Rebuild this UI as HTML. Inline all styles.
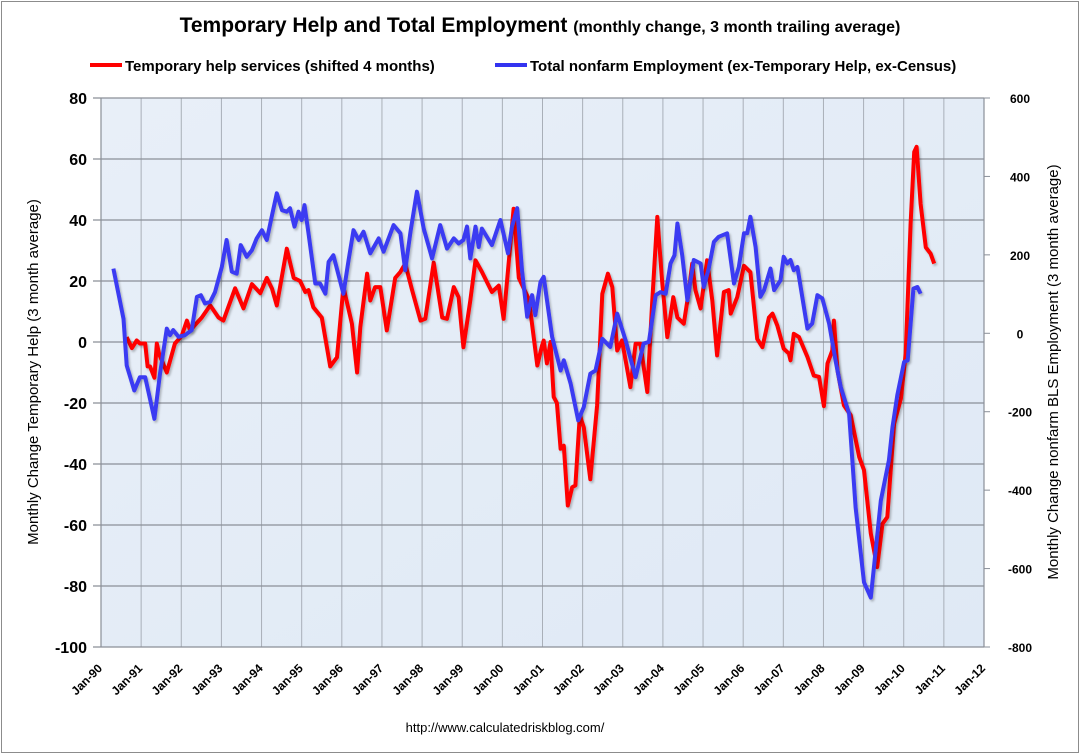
<!DOCTYPE html>
<html><head><meta charset="utf-8"><style>
body{margin:0;background:#fff;}
svg{display:block;font-family:"Liberation Sans",sans-serif;}
</style></head><body>
<svg id="c" width="1080" height="755" viewBox="0 0 1080 755">
<defs>
<linearGradient id="bg" x1="0" y1="0" x2="1" y2="1"><stop offset="0" stop-color="#e8eff8"/><stop offset="1" stop-color="#dfe9f5"/></linearGradient>
<filter id="sh" x="-5%" y="-5%" width="110%" height="110%"><feDropShadow dx="1.5" dy="2" stdDeviation="1" flood-color="#000" flood-opacity="0.25"/></filter>
</defs>
<rect x="1.5" y="1.5" width="1077" height="751" fill="#fff" stroke="#8c8c8c"/>
<text x="540" y="32" text-anchor="middle" font-size="21" font-weight="bold" fill="#000">Temporary Help and Total Employment <tspan font-size="16">(monthly change, 3 month trailing average)</tspan></text>
<g>
<line x1="90" y1="65" x2="122" y2="65" stroke="#f00" stroke-width="4"/>
<text x="125" y="71" font-size="15" font-weight="bold">Temporary help services (shifted 4 months)</text>
<line x1="495" y1="65" x2="527" y2="65" stroke="#3333f0" stroke-width="4"/>
<text x="530" y="71" font-size="15" font-weight="bold">Total nonfarm Employment (ex-Temporary Help, ex-Census)</text>
</g>
<g id="plot"></g>
<text transform="translate(38,372) rotate(-90)" text-anchor="middle" font-size="15">Monthly Change Temporary Help (3 month average)</text>
<text transform="translate(1058,372) rotate(-90)" text-anchor="middle" font-size="15">Monthly Change nonfarm BLS Employment (3 month average)</text>
<text x="505" y="732" text-anchor="middle" font-size="13" font-family="Liberation Sans, sans-serif">http://www.calculatedriskblog.com/</text>
</svg>
<script>
// years since Jan-1990
const redT=[0.64,0.77,0.89,0.97,1.10,1.16,1.22,1.33,1.39,1.45,1.64,1.84,2.01,2.14,2.22,2.51,2.72,2.93,3.05,3.34,3.55,3.76,3.97,4.13,4.26,4.38,4.63,4.80,4.96,5.09,5.17,5.29,5.50,5.71,5.88,6.04,6.25,6.38,6.46,6.63,6.71,6.83,6.96,7.12,7.33,7.46,7.58,7.75,7.96,8.08,8.29,8.50,8.62,8.79,8.91,9.03,9.20,9.33,9.49,9.74,9.91,10.03,10.28,10.41,10.66,10.87,10.99,11.03,11.11,11.20,11.28,11.36,11.45,11.53,11.63,11.74,11.82,11.93,12.03,12.19,12.36,12.49,12.63,12.74,12.86,12.98,13.07,13.19,13.32,13.44,13.61,13.73,13.86,13.98,14.11,14.26,14.36,14.52,14.65,14.73,14.81,14.94,15.10,15.23,15.35,15.52,15.64,15.69,15.85,16.02,16.18,16.35,16.48,16.64,16.73,16.85,17.01,17.14,17.18,17.26,17.39,17.60,17.76,17.89,18.01,18.10,18.22,18.26,18.35,18.51,18.68,18.89,19.01,19.18,19.34,19.47,19.59,19.76,19.93,20.05,20.17,20.26,20.32,20.42,20.55,20.67,20.76];
const redV=[1.6,-2,0.5,-0.5,-0.5,-8,-8,-11.7,-0.5,-4,-10,-0.5,2,7,3.8,8,12,8,7,17.6,11,19,16,21,17.5,12,30.6,21,20,16.4,17,11.4,8,-8,-5,18,6,-10,4.9,22.4,13.6,18,18,3.8,21,23,25.7,17,7,7.6,26,8,7.6,18,14.7,-1.7,13.6,26.8,23,16.4,18.5,7.6,43.7,21,14,-7.7,-1.1,0.5,-7,0,-18,-20,-35,-34,-53.6,-47.6,-47,-24,-28,-45,-20.8,15.8,22.4,18,-2.8,0.5,-6,-14.8,-0.6,-0.6,-16.4,12.6,41,20,1.6,14.7,8,6,17,25.7,17,11,26.8,13.6,-4.4,16.4,17,9.3,14.7,25,22.9,1,-1.7,8,9.3,5.4,-2.2,-3.8,-6,2.7,1.6,-4.9,-11,-11.4,-21,-7,-2.8,7,-9.3,-20.8,-24,-37.7,-42,-62.8,-73.8,-59.6,-57.4,-26.8,-18.6,-3.8,38.8,62.3,64,45.3,31,29,25.7];
const blueT=[0.31,0.56,0.64,0.83,0.97,1.10,1.33,1.47,1.64,1.72,1.80,1.93,2.09,2.26,2.39,2.49,2.59,2.72,2.84,3.01,3.13,3.26,3.38,3.48,3.63,3.76,3.88,4.01,4.13,4.26,4.38,4.51,4.63,4.71,4.82,4.92,5.00,5.07,5.17,5.34,5.46,5.59,5.67,5.79,6.04,6.17,6.29,6.42,6.54,6.71,6.92,7.04,7.29,7.46,7.58,7.71,7.87,8.04,8.25,8.45,8.62,8.79,8.91,9.03,9.12,9.20,9.33,9.41,9.49,9.74,9.95,10.14,10.24,10.37,10.49,10.62,10.74,10.82,10.95,11.03,11.24,11.45,11.53,11.70,11.89,12.03,12.19,12.32,12.49,12.69,12.86,13.07,13.32,13.52,13.65,13.82,13.94,14.07,14.19,14.29,14.36,14.48,14.61,14.77,14.94,15.02,15.14,15.27,15.39,15.48,15.60,15.77,15.89,16.02,16.10,16.18,16.31,16.43,16.52,16.68,16.77,16.93,17.01,17.10,17.18,17.26,17.35,17.60,17.72,17.85,17.97,18.14,18.30,18.43,18.64,18.80,19.01,19.18,19.43,19.63,19.72,19.84,20.01,20.10,20.24,20.34,20.42];
const blueV=[165,37,-82,-146,-112,-112,-218,-103,12,-5,8,-9,-5,8,93,97,76,80,105,169,238,157,152,225,195,212,242,263,238,301,357,314,310,319,272,310,289,327,255,127,127,101,182,199,101,187,263,238,259,204,242,208,276,255,161,259,361,267,191,276,216,242,229,238,272,191,272,220,267,225,289,204,272,319,161,42,97,46,131,144,-9,-95,-69,-128,-222,-188,-103,-95,-14,-35,50,-18,-112,-26,-22,97,105,101,178,199,280,199,84,187,178,118,165,233,246,250,255,127,169,255,255,297,220,93,110,165,110,135,195,178,187,161,169,12,25,97,89,25,-69,-137,-205,-444,-635,-674,-427,-324,-239,-158,-73,-69,114,118,101];
const leftTicks=[80,60,40,20,0,-20,-40,-60,-80,-100];
const rightTicks=[600,400,200,0,-200,-400,-600,-800];
const xLabels=["Jan-90","Jan-91","Jan-92","Jan-93","Jan-94","Jan-95","Jan-96","Jan-97","Jan-98","Jan-99","Jan-00","Jan-01","Jan-02","Jan-03","Jan-04","Jan-05","Jan-06","Jan-07","Jan-08","Jan-09","Jan-10","Jan-11","Jan-12"];

const L=101,R=984,T=98,B=647;
const xs=t=>L+t*(R-L)/22;
const yl=v=>T+(80-v)*(B-T)/180;
const yr=v=>T+(600-v)*(B-T)/1400;
const NS="http://www.w3.org/2000/svg";
const g=document.getElementById('plot');
function mk(tag,attrs,parent){const e=document.createElementNS(NS,tag);for(const k in attrs)e.setAttribute(k,attrs[k]);(parent||g).appendChild(e);return e;}
const bg=mk('rect',{x:L,y:T,width:R-L,height:B-T,fill:'url(#bg)'});


xLabels.forEach((lab,i)=>{
  const x=xs(i);
  const ln=mk('line',{x1:x,y1:T,x2:x,y2:B,stroke:'#a9afb8','stroke-width':1});
  
  
  const tx=mk('text',{transform:`translate(${x+2},${B+22}) rotate(-45)`,'text-anchor':'end','font-size':12,'font-weight':'bold'});
  tx.textContent=lab;
  
  
});
leftTicks.forEach(v=>{
  const y=yl(v);
  const ln=mk('line',{x1:L-8,y1:y,x2:R,y2:y,stroke:'#8a8f98','stroke-width':1.2});
  
  
  const tx=mk('text',{x:L-14,y:y+6,'text-anchor':'end','font-size':16,'font-weight':'bold'});
  tx.textContent=v;
  
  
});
rightTicks.forEach(v=>{
  const y=yr(v);
  const ln=mk('line',{x1:R,y1:y,x2:R+6,y2:y,stroke:'#8a8f98'});
  
  
  const tx=mk('text',{x:R+36,y:y+5,'text-anchor':'middle','font-size':12,'font-weight':'bold'});
  tx.textContent=v;
  
  
});
const ax=mk('line',{x1:R,y1:T,x2:R,y2:B,stroke:'#8a8f98','stroke-width':1.2});


const ax2=mk('line',{x1:L,y1:T,x2:L,y2:B,stroke:'#8a8f98','stroke-width':1.2});


function line(T_,V,fy,col,name){
  const d=T_.map((t,i)=>(i?'L':'M')+xs(t).toFixed(1)+','+fy(V[i]).toFixed(1)).join('');
  const p=mk('path',{d,fill:'none',stroke:col,'stroke-width':4,'stroke-linejoin':'round',filter:'url(#sh)'});
  
  
}
line(redT,redV,yl,'#ff0000','temp-help-line');
line(blueT,blueV,yr,'#3a3af2','nonfarm-line');
</script>
</body></html>
